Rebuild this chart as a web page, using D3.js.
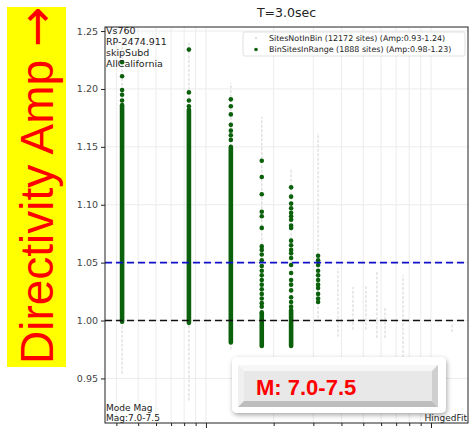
<!DOCTYPE html>
<html>
<head>
<meta charset="utf-8">
<script src="https://cdn.jsdelivr.net/npm/d3@7/dist/d3.min.js"></script>
<style>
  body { margin: 0; background: #fff; }
  svg { display: block; }
</style>
</head>
<body>
<svg id="chart" width="469" height="431"></svg>
<script>
// Distance bins (km) that hold sites inside the magnitude range
const binDistances = [4.24, 8.4, 12.9, 17.7, 23.9, 31.5];

// Dense core of each in-range column: [low amp, high amp] (null = no dense core)
const greenCores = [
  [0.999, 1.186],
  [0.998, 1.182],
  [0.981, 1.150],
  [0.978, 1.006],
  [0.978, 1.009],
  null
];

// Individually visible in-range sites above each dense core
const greenDots = [
  [1.223, 1.211, 1.199, 1.195, 1.190],
  [1.234, 1.197, 1.190, 1.185],
  [1.191, 1.185, 1.178, 1.169, 1.164, 1.160, 1.156],
  [1.138, 1.124, 1.109, 1.094, 1.090, 1.080, 1.064, 1.061, 1.057, 1.052, 1.047,
   1.043, 1.039, 1.035, 1.031, 1.027, 1.023, 1.019, 1.015, 1.012, 1.007],
  [1.115, 1.107, 1.101, 1.097, 1.093, 1.090, 1.087, 1.082, 1.080, 1.069, 1.065,
   1.061, 1.058, 1.054, 1.048, 1.041, 1.035, 1.031, 1.026, 1.020, 1.016, 1.012],
  [1.056, 1.052, 1.048, 1.043, 1.039, 1.035, 1.031, 1.028, 1.023, 1.019, 1.016]
];

// Sites outside the bin: distance column and amp extent
const grayDistances = [4.24, 8.4, 12.9, 17.7, 23.9, 31.5, 38.6, 45.0, 51.4, 57.5, 62.5, 75.1, 124];
const grayLow  = [0.954, 0.931, 0.975, 0.976, 0.976, 1.002, 0.986, 0.992, 0.992, 0.985, 0.985, 0.968, 0.990];
const grayHigh = [1.240, 1.240, 1.205, 1.176, 1.132, 1.162, 1.045, 1.029, 1.030, 1.043, 1.011, 1.039, 0.998];

// Reference levels
const refLevels = [1.05, 1.00];
const refColors = ["#1010c8", "#111111"];

const yTicks = [0.95, 1.00, 1.05, 1.10, 1.15, 1.20, 1.25];
const xMajor = [10, 100];
const xMinor = [4, 5, 6, 7, 8, 9, 20, 30, 40, 50, 60, 70, 80, 90];

const infoLines = ["Vs760", "RP-2474.911", "skipSubd", "AllCalifornia"];
const footLines = ["Mode Mag", "Mag:7.0-7.5"];
const legendLabels = [
  "SitesNotInBin (12172 sites) (Amp:0.93-1.24)",
  "BinSitesInRange (1888 sites) (Amp:0.98-1.23)"
];

const svg = d3.select("#chart");
const plot = { left: 105, right: 468, top: 27, bottom: 423 };

const x = d3.scaleLog().domain([3.56, 146]).range([plot.left, plot.right]);
const y = d3.scaleLinear().domain([0.9115, 1.2535]).range([plot.bottom, plot.top]);

const green = "#0b600b";
const font = "DejaVu Sans, sans-serif";

// Grid
const grid = svg.append("g");
grid.selectAll("line.gx").data(xMajor.concat(xMinor)).join("line")
  .attr("x1", d => x(d)).attr("x2", d => x(d))
  .attr("y1", plot.top).attr("y2", plot.bottom)
  .attr("stroke", "#ececec").attr("stroke-width", 1);
grid.selectAll("line.gy").data(yTicks).join("line")
  .attr("x1", plot.left).attr("x2", plot.right)
  .attr("y1", d => y(d)).attr("y2", d => y(d))
  .attr("stroke", "#ececec").attr("stroke-width", 1);

// Sites outside the bin
svg.append("g").selectAll("line").data(grayDistances).join("line")
  .attr("x1", d => x(d)).attr("x2", d => x(d))
  .attr("y1", (d, i) => y(grayLow[i])).attr("y2", (d, i) => y(grayHigh[i]))
  .attr("stroke", "#d8d8d8").attr("stroke-width", 1.5)
  .attr("stroke-dasharray", "3 1.5").attr("opacity", 0.75);

// In-range dense cores
svg.append("g").selectAll("line").data(binDistances.map((d, i) => ({ d, c: greenCores[i] })).filter(o => o.c))
  .join("line")
  .attr("x1", o => x(o.d)).attr("x2", o => x(o.d))
  .attr("y1", o => y(o.c[0])).attr("y2", o => y(o.c[1]))
  .attr("stroke", green).attr("stroke-width", 4.6).attr("stroke-linecap", "round");

// In-range individual sites
const dotData = [];
greenDots.forEach((arr, i) => arr.forEach(v => dotData.push({ d: binDistances[i], v })));
svg.append("g").selectAll("circle").data(dotData).join("circle")
  .attr("cx", o => x(o.d)).attr("cy", o => y(o.v)).attr("r", 2.3)
  .attr("fill", green);

// Reference lines
svg.append("g").selectAll("line").data(refLevels).join("line")
  .attr("x1", plot.left).attr("x2", plot.right)
  .attr("y1", d => y(d)).attr("y2", d => y(d))
  .attr("stroke", (d, i) => refColors[i]).attr("stroke-width", 1.6)
  .attr("stroke-dasharray", "7 4");

// Frame
svg.append("rect")
  .attr("x", plot.left).attr("y", plot.top)
  .attr("width", plot.right - plot.left).attr("height", plot.bottom - plot.top)
  .attr("fill", "none").attr("stroke", "#222").attr("stroke-width", 1);

// Y axis
const yAxis = svg.append("g").attr("transform", `translate(${plot.left},0)`)
  .call(d3.axisLeft(y).tickValues(yTicks).tickFormat(d3.format(".2f")).tickSize(4).tickPadding(3));
yAxis.select(".domain").remove();
yAxis.selectAll("text").attr("font-family", font).attr("font-size", 9.5).attr("fill", "#444");
yAxis.selectAll("line").attr("stroke", "#222");

// X axis (ticks only; labels fall below the view)
const xAxisMajor = svg.append("g").attr("transform", `translate(0,${plot.bottom})`)
  .call(d3.axisBottom(x).tickValues(xMajor).tickFormat("").tickSize(5));
xAxisMajor.select(".domain").remove();
xAxisMajor.selectAll("line").attr("stroke", "#222");
const xAxisMinor = svg.append("g").attr("transform", `translate(0,${plot.bottom})`)
  .call(d3.axisBottom(x).tickValues(xMinor).tickFormat("").tickSize(3));
xAxisMinor.select(".domain").remove();
xAxisMinor.selectAll("line").attr("stroke", "#222");

// Title
svg.append("text").attr("x", (plot.left + plot.right) / 2).attr("y", 17)
  .attr("text-anchor", "middle").attr("font-family", font).attr("font-size", 12.5)
  .attr("fill", "#222").text("T=3.0sec");

// Info text
svg.append("g").selectAll("text").data(infoLines).join("text")
  .attr("x", plot.left + 1).attr("y", (d, i) => 34 + i * 11)
  .attr("font-family", font).attr("font-size", 9.5).attr("fill", "#222").text(d => d);
svg.append("g").selectAll("text").data(footLines).join("text")
  .attr("x", plot.left + 1).attr("y", (d, i) => 411 + i * 10)
  .attr("font-family", font).attr("font-size", 9).attr("fill", "#222").text(d => d);
svg.append("text").attr("x", plot.right - 1).attr("y", 421).attr("text-anchor", "end")
  .attr("font-family", font).attr("font-size", 9).attr("fill", "#222").text("HingedFit");

// Legend
const lg = svg.append("g");
lg.append("rect").attr("x", 243).attr("y", 32).attr("width", 222).attr("height", 24)
  .attr("rx", 2).attr("fill", "#fff").attr("fill-opacity", 0.85)
  .attr("stroke", "#d8d8d8").attr("stroke-width", 0.8);
lg.append("circle").attr("cx", 256).attr("cy", 38).attr("r", 1).attr("fill", "#d4d4d4");
lg.append("circle").attr("cx", 256).attr("cy", 49.5).attr("r", 1.8).attr("fill", green);
lg.selectAll("text").data(legendLabels).join("text")
  .attr("x", 269).attr("y", (d, i) => 40.5 + i * 11.5)
  .attr("font-family", font).attr("font-size", 7.95).attr("fill", "#222").text(d => d);

// Y label banner
svg.append("rect").attr("x", 7).attr("y", 7).attr("width", 59).attr("height", 360).attr("fill", "#ffff00");
const yLabel = svg.append("text").attr("transform", "translate(53,364) rotate(-90)")
  .attr("font-family", "Liberation Sans, Arial, sans-serif").attr("font-size", 46)
  .attr("fill", "#ff0000");
yLabel.append("tspan").text("Directivity Amp ");
yLabel.append("tspan").attr("font-family", "DejaVu Sans, sans-serif").attr("font-size", 48).text("\u2192");

// Magnitude badge
const defs = svg.append("defs");
const sh = defs.append("filter").attr("id", "badgeShadow").attr("x", "-10%").attr("y", "-20%")
  .attr("width", "130%").attr("height", "160%");
sh.append("feDropShadow").attr("dx", 1).attr("dy", 2).attr("stdDeviation", 2.5)
  .attr("flood-color", "#000").attr("flood-opacity", 0.35);

const badge = svg.append("g");
badge.append("rect").attr("x", 232).attr("y", 357).attr("width", 214).attr("height", 56)
  .attr("rx", 5).attr("fill", "#fff").attr("filter", "url(#badgeShadow)");
const bx0 = 238, by0 = 365, bx1 = 438, by1 = 407, bv = 6;
badge.append("rect").attr("x", bx0).attr("y", by0).attr("width", bx1 - bx0).attr("height", by1 - by0)
  .attr("fill", "#e8e8e8");
const bevel = [
  { p: [[bx0, by0], [bx1, by0], [bx1 - bv, by0 + bv], [bx0 + bv, by0 + bv]], c: "#f7f7f7" },
  { p: [[bx0, by0], [bx0 + bv, by0 + bv], [bx0 + bv, by1 - bv], [bx0, by1]], c: "#f0f0f0" },
  { p: [[bx0, by1], [bx0 + bv, by1 - bv], [bx1 - bv, by1 - bv], [bx1, by1]], c: "#bdbdbd" },
  { p: [[bx1, by0], [bx1, by1], [bx1 - bv, by1 - bv], [bx1 - bv, by0 + bv]], c: "#cfcfcf" }
];
badge.selectAll("polygon").data(bevel).join("polygon")
  .attr("points", d => d.p.map(q => q.join(",")).join(" ")).attr("fill", d => d.c);
badge.append("text").attr("x", 256).attr("y", 395)
  .attr("font-family", "Liberation Sans, Arial, sans-serif").attr("font-weight", "bold")
  .attr("font-size", 22).attr("fill", "#ff0000").text("M: 7.0-7.5");
</script>
</body>
</html>
